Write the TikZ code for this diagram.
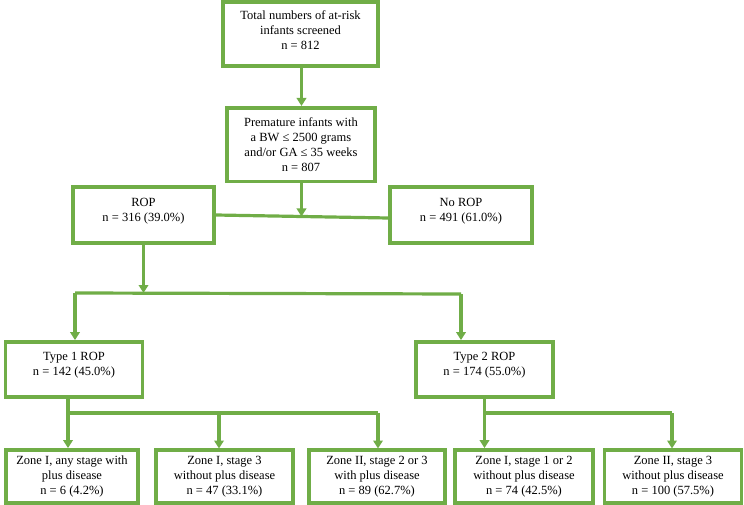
\documentclass[tikz,border=0pt]{standalone}
\usepackage{fontspec}
\setmainfont{Liberation Serif}
\usetikzlibrary{arrows.meta}
\definecolor{grn}{RGB}{112,173,71}
\begin{document}
\begin{tikzpicture}[x=1pt,y=-1pt,
  box/.style={draw=grn, line width=3.8pt, fill=white, rectangle, align=center, inner sep=0pt,
    font=\fontsize{12.5}{15}\selectfont},
  conn/.style={draw=grn, line width=3.2pt},
  arr/.style={conn, -{Triangle[length=8pt,width=9.5pt]}}]
\useasboundingbox (0,0) rectangle (744,505);
\node[box, minimum width=155pt, minimum height=64pt] (tot) at (300.5,34)
  {Total numbers of at-risk\\ infants screened\\ n = 812\\[-8pt]\mbox{}};
\node[box, minimum width=148pt, minimum height=73.5pt] (pre) at (301,144.8)
  {Premature infants with\\ a BW ≤ 2500 grams\\ and/or GA ≤ 35 weeks\\ n = 807};
\node[box, minimum width=141pt, minimum height=56pt] (rop) at (143.5,215)
  {ROP\\ n = 316 (39.0\%)\\[-4pt]\mbox{}};
\node[box, minimum width=142pt, minimum height=56pt] (norop) at (461,215)
  {No ROP\\ n = 491 (61.0\%)\\[-4pt]\mbox{}};
\node[box, minimum width=137pt, minimum height=55pt] (t1) at (74,369.5)
  {Type 1 ROP\\ n = 142 (45.0\%)\\[-4pt]\mbox{}};
\node[box, minimum width=137pt, minimum height=55pt] (t2) at (484.5,369.5)
  {Type 2 ROP\\ n = 174 (55.0\%)\\[-4pt]\mbox{}};
\node[box, minimum width=132pt, minimum height=53pt] (z1) at (72,476.5)
  {Zone I, any stage with\\ plus disease\\ n = 6 (4.2\%)};
\node[box, minimum width=137pt, minimum height=53pt] (z2) at (224.5,476.5)
  {Zone I, stage 3\\ without plus disease\\ n = 47 (33.1\%)};
\node[box, minimum width=136pt, minimum height=53pt] (z3) at (377,476.5)
  {Zone II, stage 2 or 3\\ with plus disease\\ n = 89 (62.7\%)};
\node[box, minimum width=138pt, minimum height=53pt] (z4) at (524,476.5)
  {Zone I, stage 1 or 2\\ without plus disease\\ n = 74 (42.5\%)};
\node[box, minimum width=137pt, minimum height=53pt] (z5) at (673,476.5)
  {Zone II, stage 3\\ without plus disease\\ n = 100 (57.5\%)};
% connectors
\draw[arr] (301.5,66) -- (301.5,106);
\coordinate (j) at (301.5,216.5);
\draw[conn] (rop.east) -- ([yshift=-3pt]norop.west);
\draw[arr] (pre.south -| j) -- (j);
\coordinate (hl) at (75,293);
\coordinate (hr) at (461,294);
\draw[arr] (rop.south) -- (rop.south |- hl);
\draw[conn] (hl) -- (hr);
\draw[arr] (hl) -- (hl |- t1.north);
\draw[arr] (hr) -- (hr |- t2.north);
\coordinate (ba) at (68,413);
\coordinate (bb) at (484.5,413);
\draw[conn] (ba |- t1.south) -- (ba) -- (378,413);
\draw[arr] (ba) -- (ba |- z1.north);
\draw[arr] (219,413) -- (219 ,448.5);
\draw[arr] (378,413) -- (378,448.5);
\draw[conn] (bb |- t2.south) -- (bb) -- (672,413);
\draw[arr] (bb) -- (bb |- z4.north);
\draw[arr] (672,413) -- (672,448.5);
\end{tikzpicture}
\end{document}
